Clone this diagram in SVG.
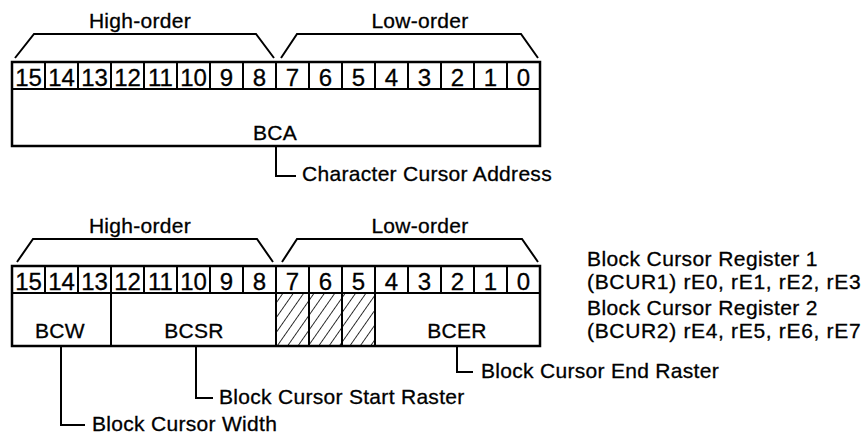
<svg xmlns="http://www.w3.org/2000/svg" width="866" height="436" viewBox="0 0 866 436">
<style>
text{font-family:"Liberation Sans",Arial,sans-serif;fill:#000;stroke:#000;stroke-width:0.3}
.lbl{font-size:21px;letter-spacing:0.3px}
.note{font-size:21px;letter-spacing:0.4px}
.dig{font-size:24px;text-anchor:middle}
.fld{font-size:21px;text-anchor:middle;letter-spacing:0.3px}
.box{fill:#fff;stroke:#000;stroke-width:2.5}
.cell{fill:none;stroke:#000;stroke-width:2}
.ln{fill:none;stroke:#000;stroke-width:2}
</style>
<defs>
<pattern id="hatch" patternUnits="userSpaceOnUse" width="8.5" height="8.5" patternTransform="rotate(35)">
<line x1="0" y1="-1" x2="0" y2="10" stroke="#000" stroke-width="1.6"/>
</pattern>
</defs>
<rect width="866" height="436" fill="#fff"/>

<g id="top-register">
<rect class="box" x="12" y="62" width="528" height="84"/>
<path class="cell" d="M12,89H540M45,62V89M78,62V89M111,62V89M144,62V89M177,62V89M210,62V89M243,62V89M276,62V89M309,62V89M342,62V89M375,62V89M408,62V89M441,62V89M474,62V89M507,62V89"/>
<g>
<text class="dig" x="28.5" y="86">15</text><text class="dig" x="61.5" y="86">14</text><text class="dig" x="94.5" y="86">13</text><text class="dig" x="127.5" y="86">12</text>
<text class="dig" x="160.5" y="86">11</text><text class="dig" x="193.5" y="86">10</text><text class="dig" x="226.5" y="86">9</text><text class="dig" x="259.5" y="86">8</text>
<text class="dig" x="292.5" y="86">7</text><text class="dig" x="325.5" y="86">6</text><text class="dig" x="358.5" y="86">5</text><text class="dig" x="391.5" y="86">4</text>
<text class="dig" x="424.5" y="86">3</text><text class="dig" x="457.5" y="86">2</text><text class="dig" x="490.5" y="86">1</text><text class="dig" x="523.5" y="86">0</text>
</g>
<text class="fld" x="275" y="140">BCA</text>
</g>

<g id="top-labels">
<text class="lbl" x="140" y="28" text-anchor="middle">High-order</text>
<text class="lbl" x="420" y="28" text-anchor="middle">Low-order</text>
<text class="lbl" x="302" y="181">Character Cursor Address</text>
</g>

<g id="bottom-register">
<rect class="box" x="12" y="266" width="528" height="80"/>
<path class="cell" d="M12,293H540M45,266V293M78,266V293M111,266V293M144,266V293M177,266V293M210,266V293M243,266V293M276,266V293M309,266V293M342,266V293M375,266V293M408,266V293M441,266V293M474,266V293M507,266V293"/>
<g>
<text class="dig" x="28.5" y="290">15</text><text class="dig" x="61.5" y="290">14</text><text class="dig" x="94.5" y="290">13</text><text class="dig" x="127.5" y="290">12</text>
<text class="dig" x="160.5" y="290">11</text><text class="dig" x="193.5" y="290">10</text><text class="dig" x="226.5" y="290">9</text><text class="dig" x="259.5" y="290">8</text>
<text class="dig" x="292.5" y="290">7</text><text class="dig" x="325.5" y="290">6</text><text class="dig" x="358.5" y="290">5</text><text class="dig" x="391.5" y="290">4</text>
<text class="dig" x="424.5" y="290">3</text><text class="dig" x="457.5" y="290">2</text><text class="dig" x="490.5" y="290">1</text><text class="dig" x="523.5" y="290">0</text>
</g>
</g>

<g id="field-bcw">
<rect class="cell" x="12" y="293" width="99" height="53"/>
<text class="fld" x="60" y="338">BCW</text>
</g>
<g id="field-bcsr">
<rect class="cell" x="111" y="293" width="165" height="53"/>
<text class="fld" x="194" y="338">BCSR</text>
</g>
<g id="field-reserved">
<rect x="276" y="293" width="33" height="53" fill="url(#hatch)" stroke="#000" stroke-width="2"/>
<rect x="309" y="293" width="33" height="53" fill="url(#hatch)" stroke="#000" stroke-width="2"/>
<rect x="342" y="293" width="33" height="53" fill="url(#hatch)" stroke="#000" stroke-width="2"/>
</g>
<g id="field-bcer">
<rect class="cell" x="375" y="293" width="165" height="53"/>
<text class="fld" x="457" y="338">BCER</text>
</g>
<rect class="cell" x="12" y="266" width="528" height="80" stroke-width="2.5"/>

<g id="bottom-labels">
<text class="lbl" x="140" y="233" text-anchor="middle">High-order</text>
<text class="lbl" x="420" y="233" text-anchor="middle">Low-order</text>
<text class="lbl" x="481" y="378">Block Cursor End Raster</text>
<text class="lbl" x="219" y="404">Block Cursor Start Raster</text>
<text class="lbl" x="92" y="431">Block Cursor Width</text>
</g>

<g id="register-notes">
<text class="note" x="587" y="266">Block Cursor Register 1</text>
<text class="note" x="587" y="289" textLength="274">(BCUR1) rE0, rE1, rE2, rE3</text>
<text class="note" x="587" y="315">Block Cursor Register 2</text>
<text class="note" x="587" y="338" textLength="274">(BCUR2) rE4, rE5, rE6, rE7</text>
</g>

<g id="connectors">
<path class="ln" d="M15,58L34,34H256L274,58"/>
<path class="ln" d="M281,58L297,34H521L538,58"/>
<path class="ln" d="M17,262L33,239H257L273,262"/>
<path class="ln" d="M282,262L297,239H522L538,262"/>
<path class="ln" d="M276,146V176H296"/>
<path class="ln" d="M457,346V372H473"/>
<path class="ln" d="M196,346V398H213"/>
<path class="ln" d="M61,346V425H85"/>
</g>
</svg>
